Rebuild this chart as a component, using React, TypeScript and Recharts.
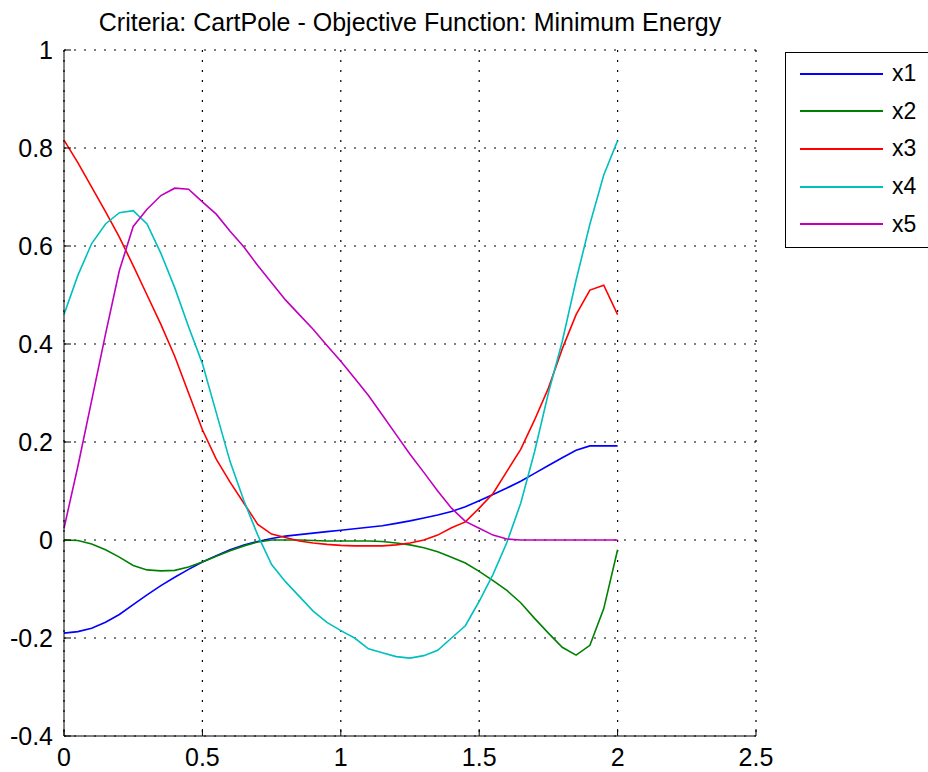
import { LineChart, Line, XAxis, YAxis, CartesianGrid } from "recharts";

const time = [
  0, 0.05, 0.1, 0.15, 0.2, 0.25, 0.3, 0.35, 0.4, 0.45, 0.5, 0.55, 0.6, 0.65, 0.7, 0.75, 0.8, 0.85, 0.9, 0.95, 1.0,
  1.05, 1.1, 1.15, 1.2, 1.25, 1.3, 1.35, 1.4, 1.45, 1.5, 1.55, 1.6, 1.65, 1.7, 1.75, 1.8, 1.85, 1.9, 1.95, 2.0,
];

const x1 = [
  -0.19, -0.187, -0.18, -0.168, -0.152, -0.132, -0.112, -0.093, -0.076, -0.06, -0.045, -0.032, -0.02, -0.01, -0.003,
  0.003, 0.008, 0.011, 0.014, 0.017, 0.02, 0.023, 0.026, 0.029, 0.034, 0.039, 0.045, 0.051, 0.058, 0.068, 0.08, 0.093,
  0.106, 0.12, 0.136, 0.152, 0.168, 0.183, 0.192, 0.192, 0.192,
];

const x2 = [
  0, -0.001, -0.008, -0.02, -0.035, -0.052, -0.061, -0.063, -0.062, -0.055, -0.045, -0.033, -0.022, -0.012, -0.004, 0,
  0, 0, -0.001, -0.002, -0.002, -0.002, -0.002, -0.003, -0.006, -0.01, -0.016, -0.024, -0.035, -0.047, -0.064, -0.083,
  -0.103, -0.128, -0.16, -0.19, -0.219, -0.235, -0.215, -0.14, -0.02,
];

const x3 = [
  0.816, 0.77, 0.72, 0.67, 0.618, 0.56, 0.5, 0.44, 0.375, 0.3, 0.225, 0.165, 0.118, 0.075, 0.032, 0.012, 0.005, -0.002,
  -0.006, -0.009, -0.011, -0.012, -0.012, -0.012, -0.01, -0.006, 0, 0.01, 0.025, 0.037, 0.065, 0.095, 0.14, 0.185,
  0.245, 0.31, 0.39, 0.46, 0.51, 0.52, 0.46,
];

const x4 = [
  0.46, 0.54, 0.605, 0.645, 0.668, 0.672, 0.645, 0.585, 0.515, 0.435, 0.36, 0.26, 0.16, 0.08, 0.01, -0.05, -0.085,
  -0.115, -0.145, -0.168, -0.185, -0.2, -0.222, -0.23, -0.238, -0.241, -0.236, -0.225, -0.2, -0.175, -0.125, -0.07,
  -0.005, 0.075, 0.18, 0.3, 0.405, 0.53, 0.645, 0.745, 0.815,
];

const x5 = [
  0.024, 0.15, 0.285, 0.42, 0.55, 0.64, 0.675, 0.703, 0.718, 0.716, 0.69, 0.665, 0.63, 0.598, 0.56, 0.525, 0.49, 0.46,
  0.43, 0.397, 0.365, 0.33, 0.295, 0.255, 0.215, 0.175, 0.138, 0.1, 0.065, 0.038, 0.024, 0.01, 0.002, 0, 0, 0, 0, 0, 0,
  0, 0,
];

const xTicks = [0, 0.5, 1, 1.5, 2, 2.5];
const yTicks = [-0.4, -0.2, 0, 0.2, 0.4, 0.6, 0.8, 1];

const series = [
  { key: "x1", values: x1, color: "#0000ff" },
  { key: "x2", values: x2, color: "#008000" },
  { key: "x3", values: x3, color: "#ff0000" },
  { key: "x4", values: x4, color: "#00bfbf" },
  { key: "x5", values: x5, color: "#bf00bf" },
];

const rows = time.map((t, i) => {
  const row: Record<string, number> = { t };
  series.forEach((s) => (row[s.key] = s.values[i]));
  return row;
});

const font = "'Liberation Sans', Arial, Helvetica, sans-serif";
const tickStyle = { fontSize: 25, fill: "#000", fontFamily: font };

function LegendBox() {
  return (
    <div
      style={{
        position: "absolute",
        left: 785,
        top: 52,
        border: "1px solid #000",
        background: "#fff",
        width: 160,
        height: 196,
        boxSizing: "border-box",
        paddingTop: 2,
        fontFamily: font,
      }}
    >
      {series.map((s) => (
        <div key={s.key} style={{ height: 37.6, display: "flex", alignItems: "center" }}>
          <span style={{ display: "inline-block", marginLeft: 14, width: 83, height: 2, background: s.color }} />
          <span style={{ marginLeft: 9, fontSize: 23, color: "#000" }}>{s.key}</span>
        </div>
      ))}
    </div>
  );
}

export default function App() {
  return (
    <div
      style={{
        position: "absolute",
        left: 0,
        top: 0,
        width: 928,
        height: 772,
        overflow: "hidden",
        background: "#fff",
      }}
    >
      <div
        style={{
          position: "absolute",
          left: 0,
          top: 7,
          width: 820,
          textAlign: "center",
          fontFamily: font,
          fontSize: 25,
          lineHeight: "30px",
          color: "#000",
        }}
      >
        Criteria: CartPole - Objective Function: Minimum Energy
      </div>
      <LineChart width={928} height={772} data={rows} margin={{ top: 50, right: 172, bottom: 0, left: 0 }}>
        <CartesianGrid stroke="#000" strokeDasharray="2 8" strokeWidth={1.2} />
        <XAxis
          type="number"
          dataKey="t"
          domain={[0, 2.5]}
          ticks={xTicks}
          interval={0}
          height={36}
          tickSize={-7}
          tickMargin={19}
          tick={tickStyle}
          stroke="#000"
          tickLine={{ stroke: "#000" }}
        />
        <XAxis
          xAxisId="top"
          orientation="top"
          type="number"
          dataKey="t"
          domain={[0, 2.5]}
          ticks={xTicks}
          interval={0}
          height={0}
          tickSize={-7}
          tickFormatter={() => ""}
          stroke="#000"
        />
        <YAxis
          type="number"
          domain={[-0.4, 1]}
          ticks={yTicks}
          interval={0}
          width={64}
          tickSize={-7}
          tickMargin={18}
          tick={tickStyle}
          tickFormatter={(v: number) => String(Math.round(v * 10) / 10)}
          stroke="#000"
        />
        <YAxis
          yAxisId="right"
          orientation="right"
          type="number"
          domain={[-0.4, 1]}
          ticks={yTicks}
          interval={0}
          width={0}
          tickSize={-7}
          tickFormatter={() => ""}
          stroke="#000"
        />
        {series.map((s) => (
          <Line
            key={s.key}
            type="linear"
            dataKey={s.key}
            name={s.key}
            stroke={s.color}
            strokeWidth={1.6}
            dot={false}
            isAnimationActive={false}
          />
        ))}
      </LineChart>
      <LegendBox />
    </div>
  );
}
